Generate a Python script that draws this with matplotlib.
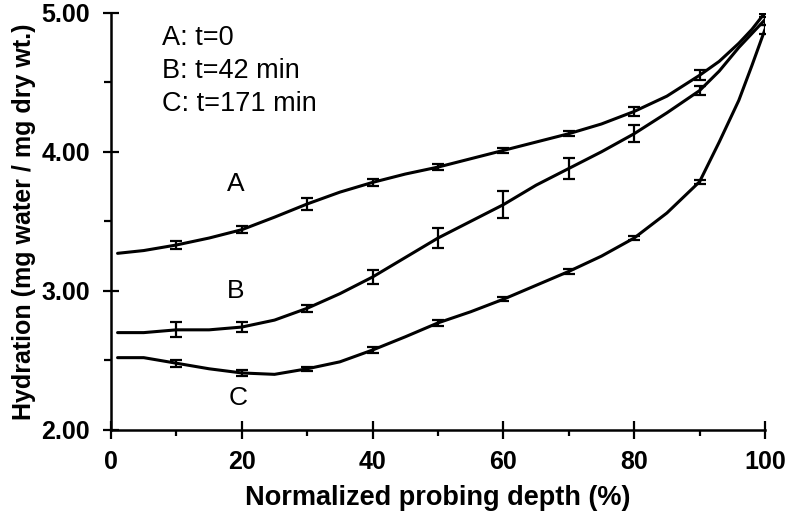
import numpy as np
import matplotlib
matplotlib.use("Agg")
import matplotlib.pyplot as plt
from matplotlib.ticker import MultipleLocator

# probing depth (%) sampled along the curves
depth = [1, 5, 10, 15, 20, 25, 30, 35, 40, 45, 50, 55, 60, 65, 70, 75, 80, 85, 90, 93, 96, 98, 100]

# hydration (mg water / mg dry wt.)
hyd_a = [3.27, 3.29, 3.33, 3.38, 3.44, 3.53, 3.625, 3.71, 3.78, 3.84, 3.89, 3.95, 4.01, 4.07, 4.13,
         4.20, 4.29, 4.40, 4.55, 4.65, 4.78, 4.88, 5.00]
hyd_b = [2.70, 2.70, 2.72, 2.72, 2.74, 2.79, 2.875, 2.98, 3.10, 3.24, 3.38, 3.50, 3.62, 3.76, 3.88,
         4.00, 4.13, 4.28, 4.44, 4.58, 4.75, 4.85, 4.95]
hyd_c = [2.52, 2.52, 2.48, 2.44, 2.41, 2.40, 2.44, 2.49, 2.575, 2.67, 2.77, 2.85, 2.94, 3.04, 3.14,
         3.25, 3.38, 3.56, 3.785, 4.07, 4.37, 4.62, 4.88]

# error bars at every 10 %
err_depth = [10, 20, 30, 40, 50, 60, 70, 80, 90, 100]
err_a = [0.03, 0.025, 0.045, 0.025, 0.02, 0.02, 0.02, 0.035, 0.035, 0.03]
err_b = [0.055, 0.035, 0.025, 0.05, 0.07, 0.095, 0.075, 0.06, 0.03, 0.04]
err_c = [0.025, 0.02, 0.015, 0.02, 0.02, 0.015, 0.02, 0.015, 0.015, 0.03]

legend_lines = ["A: t=0", "B: t=42 min", "C: t=171 min"]

plt.rcParams["font.family"] = ["Liberation Sans", "DejaVu Sans"]

fig = plt.figure(figsize=(7.88, 5.2), dpi=100)
ax = fig.add_axes([0.1409, 0.1731, 0.8299, 0.8025])

depth_arr = np.array(depth)
mask = np.isin(depth_arr, err_depth)
for hyd, err in [(hyd_a, err_a), (hyd_b, err_b), (hyd_c, err_c)]:
    hyd = np.array(hyd)
    ax.plot(depth_arr, hyd, color="black", lw=2.2, solid_capstyle="round")
    ax.errorbar(depth_arr[mask], hyd[mask], yerr=err, fmt="none", ecolor="black",
                elinewidth=1.6, capsize=4, capthick=1.6)

# curve labels
ax.text(19, 3.77, "A", fontsize=19, ha="center", va="center")
ax.text(19, 3.0, "B", fontsize=19, ha="center", va="center")
ax.text(19.5, 2.23, "C", fontsize=19, ha="center", va="center")

# legend text block
for i, line in enumerate(legend_lines):
    ax.text(7.8, 4.82 - i * 0.237, line, fontsize=19.5, ha="left", va="center")

ax.set_xlim(0, 100)
ax.set_ylim(2, 5)
ax.xaxis.set_major_locator(MultipleLocator(20))
ax.xaxis.set_minor_locator(MultipleLocator(10))
ax.yaxis.set_major_locator(MultipleLocator(1))
ax.yaxis.set_minor_locator(MultipleLocator(0.5))
ax.yaxis.set_major_formatter(matplotlib.ticker.FormatStrFormatter("%.2f"))

for side in ["top", "right"]:
    ax.spines[side].set_visible(False)
for side in ["left", "bottom"]:
    ax.spines[side].set_linewidth(1.8)

ax.tick_params(axis="x", which="major", direction="inout", length=13, width=1.6, pad=8)
ax.tick_params(axis="x", which="minor", direction="out", length=4, width=1.6)
ax.tick_params(axis="y", which="major", direction="inout", length=12, width=1.6, pad=9)
ax.tick_params(axis="y", which="minor", direction="out", length=5, width=1.6)
for lbl in ax.get_xticklabels():
    lbl.set_fontsize(18)
    lbl.set_fontweight("bold")
for lbl in ax.get_yticklabels():
    lbl.set_fontsize(18)
    lbl.set_fontweight("bold")

ax.set_xlabel("Normalized probing depth (%)", fontsize=19.5, fontweight="bold", labelpad=8)
ax.set_ylabel("Hydration (mg water / mg dry wt.)", fontsize=18, fontweight="bold", labelpad=4)

fig.savefig("out.png", dpi=100)
